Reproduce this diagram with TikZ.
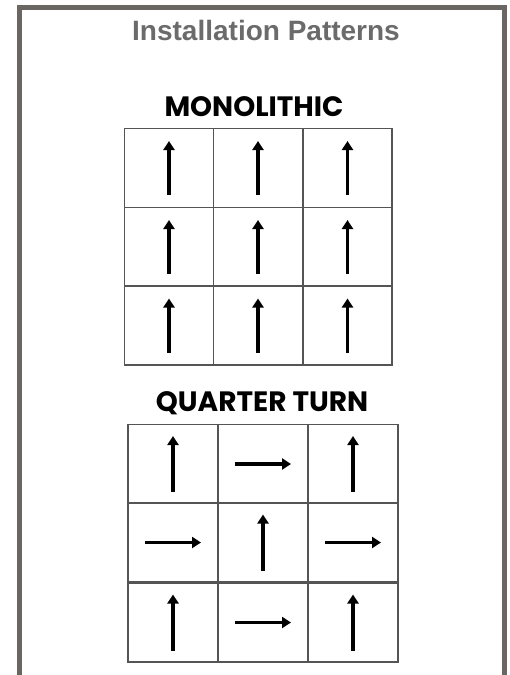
\documentclass[tikz,border=0pt]{standalone}
\usepackage{fontspec}
\setmainfont{Liberation Sans}
\newfontfamily\handfont{Poppins}
\usetikzlibrary{arrows.meta}
\definecolor{framegray}{HTML}{6A6662}
\definecolor{titlegray}{HTML}{6B6B6B}
\definecolor{gridgray}{HTML}{555555}
\tikzset{
  cell/.style={draw=gridgray, line width=1.4pt, minimum width=89pt, minimum height=79pt, inner sep=0pt},
  cellq/.style={cell, minimum width=90pt},
  arr/.style={line width=3.4pt, -{Triangle[length=9pt,width=11pt]}},
  heading/.style={font=\handfont\bfseries\fontsize{28}{28}\selectfont, text=black},
}
\begin{document}
\begin{tikzpicture}[x=1pt, y=-1pt]
  \useasboundingbox (0,0) rectangle (510,675);
  % Frame
  \draw[framegray, line width=4.8pt] (19.7,675) -- (19.7,7.5) -- (504.5,7.5) -- (504.5,675);
  % Title
  \node[font=\bfseries\fontsize{28}{28}\selectfont, text=titlegray] (title) at (266,30) {Installation Patterns};
  % Monolithic
  \node[heading] (mono) at (254,107) {MONOLITHIC};
  \foreach \r/\y in {1/168, 2/247, 3/325.5} {
    \foreach \c/\x in {1/169, 2/258, 3/347.5} {
      \node[cell] (m\r\c) at (\x,\y) {};
      \draw[arr] ([yshift=-27pt]m\r\c.center) -- ([yshift=27pt]m\r\c.center);
    }
  }
  % Quarter turn
  \node[heading] (quarter) at (262,403) {QUARTER\hspace{6pt}TURN};
  \foreach \r/\y in {1/464, 2/542.5, 3/622.5} {
    \foreach \c/\x in {1/173, 2/263, 3/353} {
      \node[cellq] (q\r\c) at (\x,\y) {};
    }
  }
  \foreach \n in {q11, q13, q22, q31, q33}
    \draw[arr] ([yshift=-28pt]\n.center) -- ([yshift=28pt]\n.center);
  \foreach \n in {q12, q21, q23, q32}
    \draw[arr] ([xshift=-28pt]\n.center) -- ([xshift=28pt]\n.center);
\end{tikzpicture}
\end{document}
